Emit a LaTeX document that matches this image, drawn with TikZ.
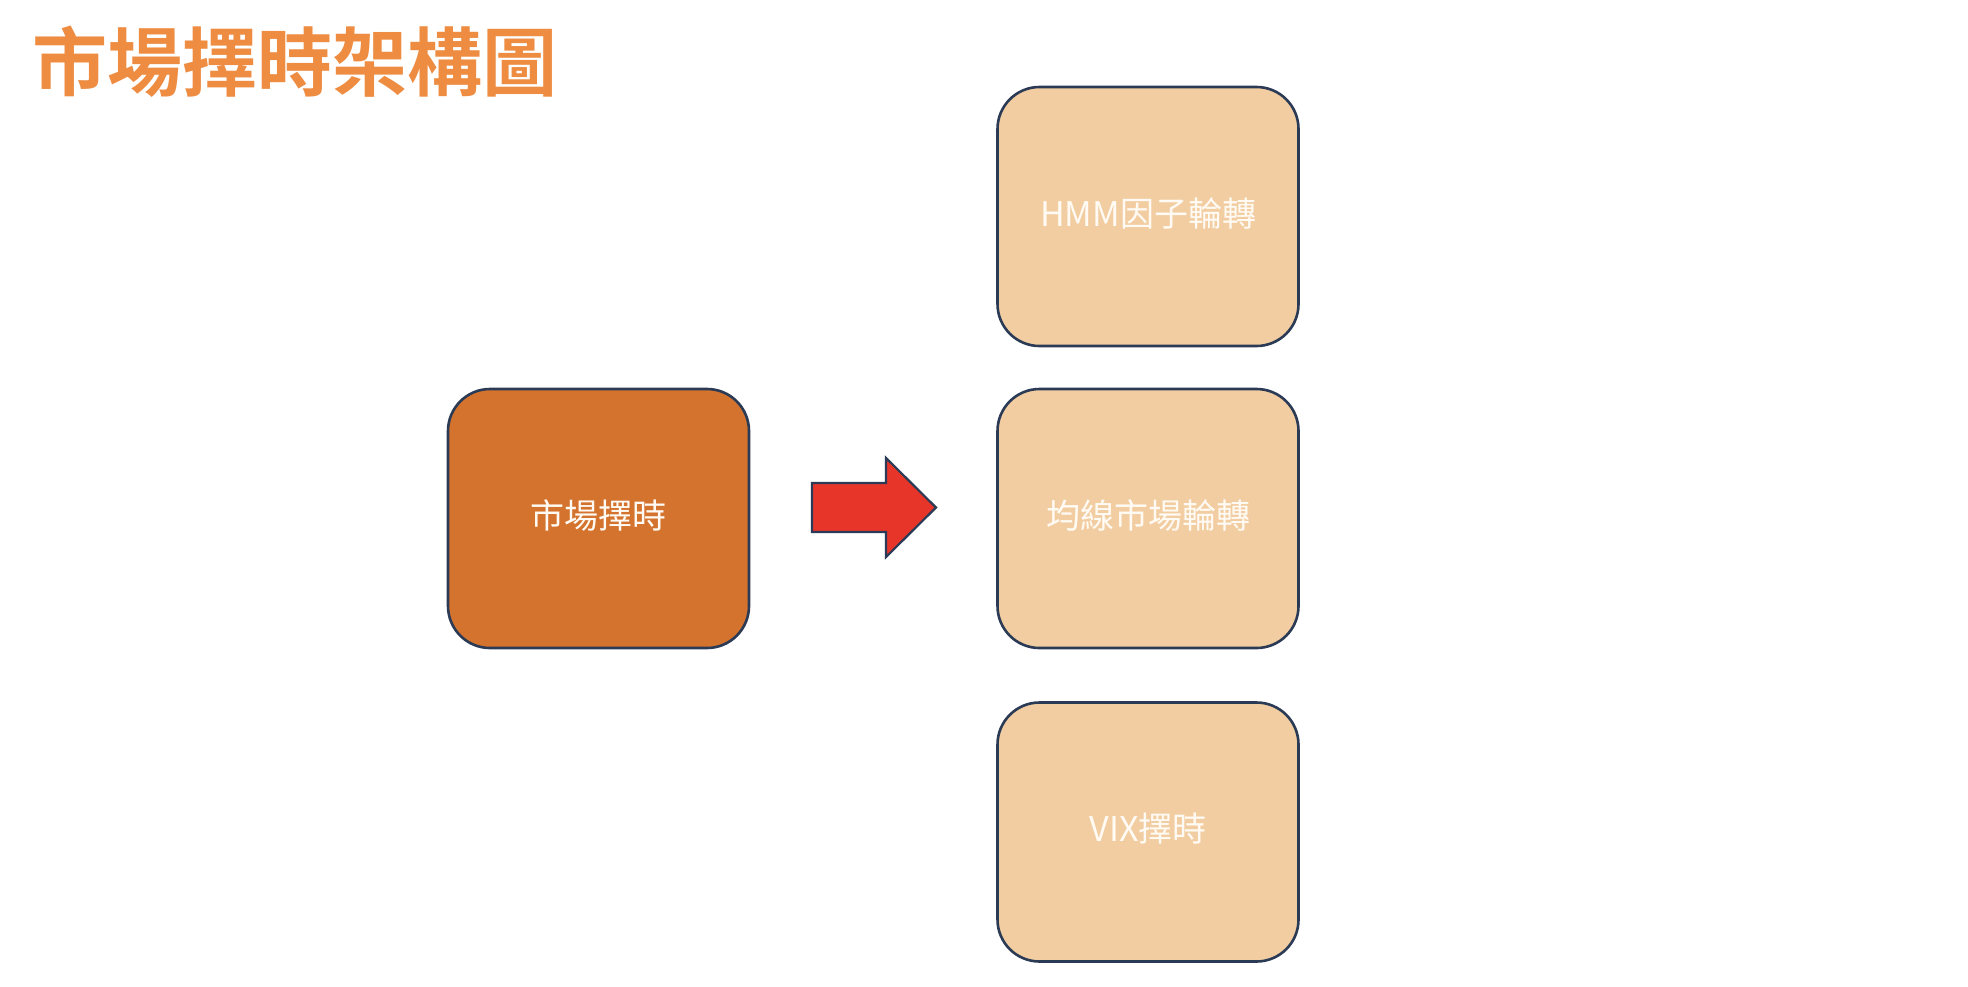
\documentclass[tikz,border=0pt]{standalone}
\usepackage{fontspec}
\newfontfamily\cjk{Noto Sans CJK TC}
\newfontfamily\cjkbold{Noto Sans CJK TC Bold}
\definecolor{titleorange}{HTML}{EE8C42}
\definecolor{mainfill}{HTML}{D4732E}
\definecolor{subfill}{HTML}{F2CDA1}
\definecolor{borderc}{HTML}{2B3A55}
\definecolor{arrowred}{HTML}{E8352A}
\definecolor{labelwhite}{HTML}{FFFBF4}
\begin{document}
\begin{tikzpicture}[x=0.5pt,y=-0.5pt,
  boxbase/.style={draw=borderc, line width=1.3pt, rounded corners=21pt,
    minimum width=150.5pt, minimum height=129.5pt, inner sep=0pt,
    text=labelwhite, font=\cjk\fontsize{17pt}{20pt}\selectfont},
  mainbox/.style={boxbase, fill=mainfill},
  subbox/.style={boxbase, fill=subfill},
  boxlabel/.style={inner sep=0pt, text=labelwhite, font=\cjk\fontsize{17pt}{20pt}\selectfont},
  blockarrow/.style={draw=borderc, line width=1.1pt, fill=arrowred, line join=miter}
]
\useasboundingbox (0,0) rectangle (1968,986);
\fill[white] (0,0) rectangle (1968,986);
\node[anchor=west, inner sep=0pt, text=titleorange,
  font=\cjkbold\fontsize{37.5pt}{44pt}\selectfont] (title) at (32,62) {市場擇時架構圖};
\node[mainbox] (main) at (598.5,518.5) {};
\node[subbox] (hmm) at (1148,216.5) {};
\node[subbox] (ma) at (1148,518.5) {};
\node[subbox] (vix) at (1148,832) {};
\node[boxlabel] (mainlbl) at ([yshift=1.5pt]main.center) {市場擇時};
\node[boxlabel] (hmmlbl) at ([yshift=1.5pt]hmm.center) {HMM因子輪轉};
\node[boxlabel] (malbl) at ([yshift=1.5pt]ma.center) {均線市場輪轉};
\node[boxlabel] (vixlbl) at ([yshift=1.5pt]vix.center) {VIX擇時};
\coordinate (a1) at (812,483);
\coordinate (a2) at (886,483);
\coordinate (a3) at (886,458);
\coordinate (a4) at (936,507.5);
\coordinate (a5) at (886,557);
\coordinate (a6) at (886,532);
\coordinate (a7) at (812,532);
\draw[blockarrow] (a1) -- (a2) -- (a3) -- (a4) -- (a5) -- (a6) -- (a7) -- cycle;
\end{tikzpicture}
\end{document}
